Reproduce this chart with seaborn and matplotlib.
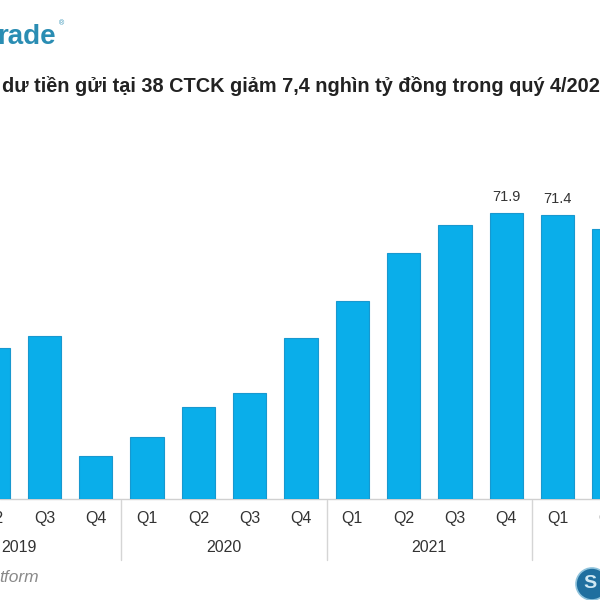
import matplotlib
matplotlib.use("Agg")
import matplotlib.pyplot as plt
import matplotlib.transforms as mtransforms
from matplotlib.patches import Circle
import seaborn as sns
import pandas as pd

# ---- data (visible part of the chart) ----
years = ["2019", "2019", "2019", "2020", "2020", "2020", "2020",
         "2021", "2021", "2021", "2021", "2022", "2022"]
quarters = ["Q2", "Q3", "Q4", "Q1", "Q2", "Q3", "Q4",
            "Q1", "Q2", "Q3", "Q4", "Q1", "Q2"]
values = [37.8, 40.9, 10.8, 15.6, 23.2, 26.7, 40.4,
          49.7, 61.9, 68.7, 71.9, 71.4, 67.7]
value_labels = ["", "", "", "", "", "", "", "", "", "", "71.9", "71.4", ""]

title_text = "dư tiền gửi tại 38 CTCK giảm 7,4 nghìn tỷ đồng trong quý 4/2022"
logo_text = "rade"
source_text = "tform"

BAR = "#0AAEEA"
EDGE = "#1898cf"
TXT = "#333333"

sns.set_theme(style="white")
plt.rcParams["font.family"] = ["Liberation Sans", "DejaVu Sans"]

df = pd.DataFrame({"period": [f"{y} {q}" for y, q in zip(years, quarters)],
                   "value": values})

fig = plt.figure(figsize=(6, 6), dpi=100)
fig.patch.set_facecolor("white")
ax = fig.add_axes([0, 101 / 600, 1, 349 / 600])

sns.barplot(data=df, x="period", y="value", color=BAR, saturation=1,
            width=0.65, edgecolor=EDGE, linewidth=0.8, ax=ax)

XL = (0.1326, 11.829)
for s in ax.spines.values():
    s.set_visible(False)
ax.set_yticks([])
ax.set_xticks([])
ax.set_xlabel("")
ax.set_ylabel("")
ax.axhline(0, color="#d0d0d0", lw=1, zorder=0, clip_on=False)

# value labels
ax.bar_label(ax.containers[0], labels=value_labels, padding=6,
             fontsize=10.5, color=TXT)

blend = mtransforms.blended_transform_factory(ax.transData, fig.transFigure)

# quarter labels (drawn as text so the cropped edge labels still show)
for i, q in enumerate(quarters):
    ax.text(i, 1 - 519 / 600, q, transform=blend, ha="center", va="center",
            fontsize=11.5, color=TXT, clip_on=False)

# year labels and separators
qnum = {"Q1": 1, "Q2": 2, "Q3": 3, "Q4": 4}
seen = []
for i, (y, q) in enumerate(zip(years, quarters)):
    if y in seen:
        continue
    seen.append(y)
    start = i - (qnum[q] - 1)
    center = start + 1.5
    if center - 0.4 < XL[1]:
        ax.text(center, 1 - 548 / 600, y, transform=blend, ha="center",
                va="center", fontsize=11.5, color=TXT, clip_on=False)
    if qnum[q] == 1:
        ax.plot([start - 0.5, start - 0.5], [1 - 500 / 600, 1 - 560 / 600],
                transform=blend, color="#d5d5d5", lw=1, clip_on=False,
                scalex=False, scaley=False)

ax.set_xlim(*XL)
ax.set_ylim(0, 349 / 3.982)

# title, logo, source
fig.text(0.004, 1 - 86 / 600, title_text, fontsize=14.3, fontweight="bold",
         color="#222222", ha="left", va="center")
fig.text(-0.004, 1 - 37 / 600, logo_text, fontsize=20, fontweight="bold",
         color="#2a8db3", ha="left", va="center")
fig.text(0.098, 1 - 24 / 600, "®", fontsize=5, color="#2a8db3",
         ha="left", va="center")
fig.text(-0.002, 1 - 578 / 600, source_text, fontsize=12.5, style="italic",
         color="#8a8a8a", ha="left", va="center")

circ = Circle((592 / 600, 1 - 584 / 600), 16 / 600, transform=fig.transFigure,
              facecolor="#1f6f9f", edgecolor="#8fc3dc", lw=1.2)
fig.patches.append(circ)
fig.text(590 / 600, 1 - 584 / 600, "S", fontsize=14, fontweight="bold",
         color="#cfe8f3", ha="center", va="center")

fig.savefig("out.png", dpi=100)
